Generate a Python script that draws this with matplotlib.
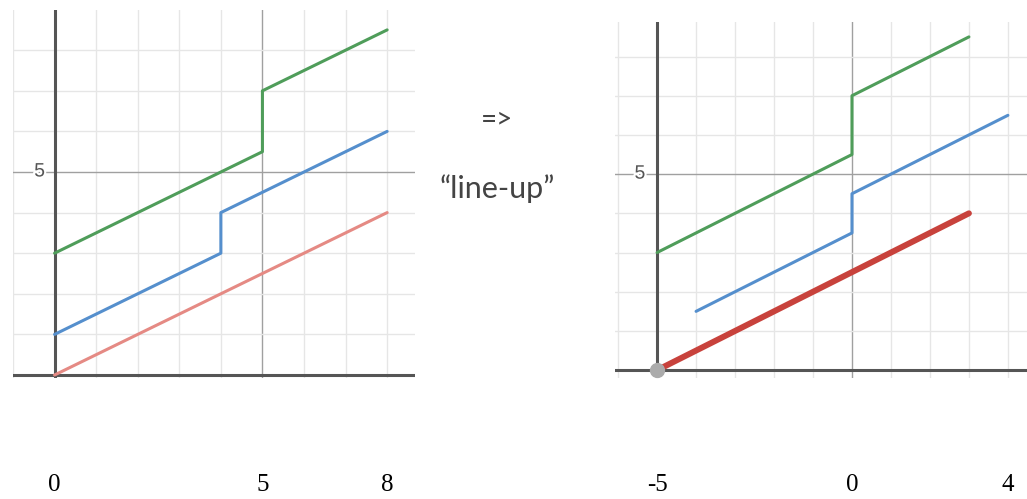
import math
import matplotlib
matplotlib.use("Agg")
import matplotlib.pyplot as plt
import matplotlib.patheffects as pe
from matplotlib.transforms import blended_transform_factory

# ---- data ----
left_red_x = [0, 8]
left_red_y = [0, 4]
left_blue_x = [0, 4, 4, 8]
left_blue_y = [1, 3, 4, 6]
left_green_x = [0, 5, 5, 8]
left_green_y = [3, 5.5, 7, 8.5]

right_red_x = [-5, 3]
right_red_y = [0, 4]
right_blue_x = [-4, 0, 0, 4]
right_blue_y = [1.5, 3.5, 4.5, 6.5]
right_green_x = [-5, 0, 0, 3]
right_green_y = [3, 5.5, 7, 8.5]
right_point = (-5, 0)

left_ticks = [0, 5, 8]
right_ticks = [-5, 0, 4]
y_label = 5

W, H = 1027, 499
fig = plt.figure(figsize=(W / 100, H / 100), dpi=100)


def px_axes(l, t, r, b):
    return fig.add_axes([l / W, 1 - b / H, (r - l) / W, (b - t) / H])


def setup(ax, xlim, ylim, axis_x):
    ax.set_xlim(*xlim)
    ax.set_ylim(*ylim)
    for s in ax.spines.values():
        s.set_visible(False)
    ax.set_xticks([])
    ax.set_yticks([])
    for xv in range(math.ceil(xlim[0]), math.floor(xlim[1]) + 1):
        if xv == axis_x:
            continue
        major = xv % 5 == 0
        ax.axvline(xv, color="#a0a0a0" if major else "#e6e6e6", lw=1.0, zorder=1)
    for yv in range(math.ceil(ylim[0]), math.floor(ylim[1]) + 1):
        if yv == 0:
            continue
        major = yv % 5 == 0
        ax.axhline(yv, color="#a0a0a0" if major else "#e6e6e6", lw=1.0, zorder=1)
    ax.axhline(0, color="#555555", lw=2.2, zorder=2)
    ax.axvline(axis_x, color="#555555", lw=2.2, zorder=2)


# left panel
axL = px_axes(13, 10, 415, 378)
setup(axL, (-1.0, 8.67), (-0.074, 8.99), 0)
axL.plot(left_red_x, left_red_y, color="#e58a84", lw=2.2, zorder=3, solid_capstyle="round")
axL.plot(left_blue_x, left_blue_y, color="#558fcd", lw=2.2, zorder=3, solid_capstyle="round")
axL.plot(left_green_x, left_green_y, color="#4f9d5a", lw=2.2, zorder=3, solid_capstyle="round")
axL.text(-0.36, y_label, str(y_label), ha="center", va="center", fontsize=14,
         color="#555555", family="Liberation Sans", zorder=4,
         path_effects=[pe.withStroke(linewidth=3, foreground="white")])

# right panel
axR = px_axes(615, 22, 1027, 378)
setup(axR, (-6.08, 4.49), (-0.2, 8.88), -5)
axR.plot(right_red_x, right_red_y, color="#c8423c", lw=4.3, zorder=3, solid_capstyle="round")
axR.plot(right_blue_x, right_blue_y, color="#558fcd", lw=2.2, zorder=3, solid_capstyle="round")
axR.plot(right_green_x, right_green_y, color="#4f9d5a", lw=2.2, zorder=3, solid_capstyle="round")
axR.plot([right_point[0]], [right_point[1]], "o", color="#ababab", ms=10, zorder=4)
axR.text(-5.44, y_label, str(y_label), ha="center", va="center", fontsize=14,
         color="#555555", family="Liberation Sans", zorder=4,
         path_effects=[pe.withStroke(linewidth=3, foreground="white")])

# bottom labels
for ax, ticks in ((axL, left_ticks), (axR, right_ticks)):
    tr = blended_transform_factory(ax.transData, fig.transFigure)
    for t in ticks:
        ax.text(t, 1 - 485 / H, str(t), transform=tr, ha="center", va="center",
                fontsize=18, family="Liberation Serif", color="black", clip_on=False)

fig.text(497 / W, 1 - 119 / H, "=>", ha="center", va="center", fontsize=20,
         family="Lato", color="#444444")
fig.text(497 / W, 1 - 189 / H, "\u201cline-up\u201d", ha="center", va="center",
         fontsize=22, family="Lato", color="#444444")

fig.savefig("out.png", dpi=100)
